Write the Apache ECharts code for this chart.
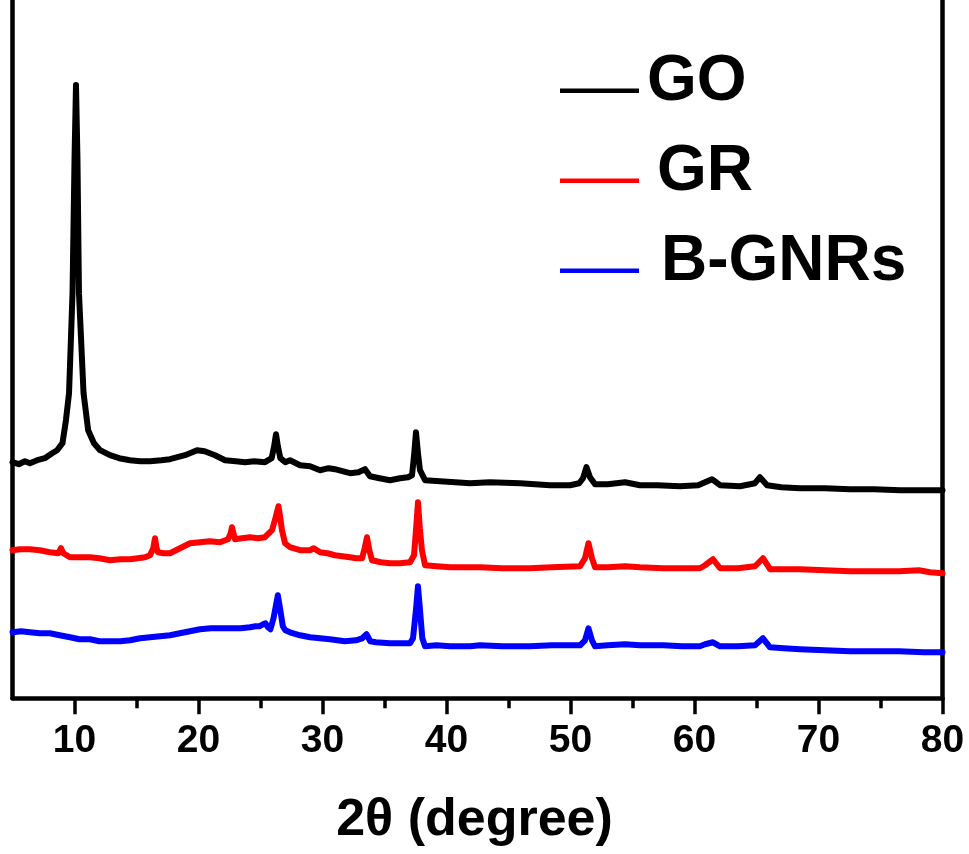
<!DOCTYPE html>
<html>
<head>
<meta charset="utf-8">
<script src="https://cdn.jsdelivr.net/npm/echarts@6/dist/echarts.min.js"></script>
<style>
html,body{margin:0;padding:0;background:#fff;}
#chart{width:969px;height:854px;}
</style>
</head>
<body>
<div id="chart"></div>
<script>
// ---- data (2θ in degrees, intensity in a.u., curves already offset for stacking) ----
const seriesNames = ['GO', 'GR', 'B-GNRs'];
const majorTicks = [10, 20, 30, 40, 50, 60, 70, 80];
const minorTicks = [15, 25, 35, 45, 55, 65, 75];

const goData = [
  [5.0,236],[5.5,234],[6.0,237],[6.4,235],[7.0,238],[7.6,240],[8.2,245],[8.6,248],
  [9.03,255],[9.31,278],[9.56,305],[9.84,405],[10.0,538],[10.12,613],[10.24,538],
  [10.36,405],[10.73,305],[11.1,268],[11.57,255],[12.06,248],[12.86,243],[13.6,240],
  [14.48,238],[15.3,237],[16.09,237],[17.0,238],[17.7,239],[18.3,241],[18.91,243],
  [19.5,246],[19.88,248],[20.5,247],[21.33,243],[22.14,238],[23.0,237],[23.75,236],
  [24.5,237],[25.36,236],[25.9,240],[26.1,252],[26.25,264],[26.4,252],[26.6,240],
  [27.0,236],[27.38,238],[28.19,233],[29.0,232],[29.8,228],[30.5,230],[31.0,229],
  [31.6,227],[32.22,225],[32.9,226],[33.43,229],[33.83,222],[34.6,220],[35.44,218],
  [36.25,220],[36.9,221],[37.22,223],[37.4,245],[37.54,266],[37.7,245],[37.86,228],
  [38.27,218],[39.48,217],[40.7,216],[41.9,215],[43.5,216],[45.93,215],[48.35,213],
  [49.96,213],[50.7,215],[51.01,220],[51.29,231],[51.57,221],[51.98,214],[53.0,214],
  [54.4,216],[55.6,213],[57.0,213],[58.83,212],[60.3,213],[60.85,216],[61.41,219],
  [62.06,213],[63.67,212],[64.88,215],[65.28,221],[65.85,213],[67.0,211],[68.51,210],
  [70.5,210],[72.54,209],[74.5,209],[76.57,208],[78.5,208],[80.0,208]
];

const grData = [
  [5.0,148],[5.6,149],[6.41,149],[7.2,148],[8.02,146],[8.7,145],[8.91,150],[9.1,145],
  [9.64,141],[10.4,141],[11.25,141],[12.0,140],[12.86,138],[13.7,139],[14.48,139],
  [15.1,140],[15.69,141],[16.09,143],[16.35,150],[16.49,160],[16.62,150],[16.73,146],
  [17.2,145],[17.7,145],[18.51,150],[19.31,155],[20.12,156],[20.9,157],[21.73,156],
  [22.38,159],[22.6,165],[22.7,171],[22.82,165],[22.94,159],[23.5,160],[24.15,161],
  [24.8,160],[25.36,161],[25.93,168],[26.2,180],[26.45,192],[26.6,180],[26.73,168],
  [26.98,155],[27.38,151],[28.19,148],[28.99,148],[29.3,150],[29.8,146],[30.4,145],
  [31.01,143],[31.6,142],[32.22,141],[32.7,140],[33.19,140],[33.4,150],[33.59,161],
  [33.78,148],[33.99,138],[34.7,136],[35.44,135],[36.25,135],[37.06,136],[37.38,143],
  [37.55,170],[37.7,196],[37.85,170],[38.02,148],[38.27,133],[39.2,132],[40.28,131],
  [41.9,131],[42.7,131],[44.5,130],[46.73,130],[48.5,131],[50.77,132],[51.17,140],
  [51.45,155],[51.73,140],[51.98,131],[53.0,131],[54.4,132],[55.6,131],[57.5,130],
  [59.0,130],[60.44,130],[60.85,133],[61.49,139],[62.06,130],[63.5,130],[64.88,132],
  [65.52,140],[66.09,129],[67.2,129],[68.51,129],[70.5,128],[72.54,127],[74.5,127],
  [76.5,127],[78.1,128],[79.0,126],[80.0,125]
];

const bgnrData = [
  [5.0,66],[5.7,67],[6.41,66],[7.2,65],[8.02,65],[8.8,63],[9.64,61],[10.4,59],
  [11.25,59],[12.0,57],[12.86,57],[13.7,57],[14.48,58],[15.3,60],[16.09,61],[16.9,62],
  [17.7,63],[18.5,65],[19.31,67],[20.12,69],[21.0,70],[21.73,70],[22.5,70],[23.4,70],
  [24.15,71],[24.6,72],[24.9,72],[25.2,74],[25.4,75],[25.6,71],[25.8,69],[26.05,80],
  [26.4,103],[26.6,88],[26.8,72],[27.0,68],[27.38,66],[28.19,63],[29.0,61],[29.8,60],
  [30.6,59],[31.8,57],[32.7,58],[33.2,60],[33.55,64],[33.85,57],[34.3,56],[35.44,55],
  [36.25,55],[37.06,55],[37.3,60],[37.55,90],[37.7,112],[37.85,90],[38.05,60],
  [38.27,52],[39.2,53],[40.28,52],[41.9,52],[42.7,53],[44.5,52],[46.73,52],[48.5,53],
  [50.77,53],[51.17,58],[51.45,70],[51.73,58],[51.98,52],[53.0,53],[54.4,54],
  [55.6,53],[57.5,53],[59.0,52],[60.44,52],[60.85,54],[61.49,56],[62.06,52],[63.5,52],
  [64.88,53],[65.52,60],[66.09,51],[67.2,50],[68.51,49],[70.5,48],[72.54,47],[74.5,47],
  [76.5,47],[78.5,46],[80.0,46]
];

const seriesColors = ['#000000', '#ff0000', '#0000ff'];
const seriesData = [goData, grData, bgnrData];

const FONT = '"Liberation Sans", Arial, sans-serif';
const chart = echarts.init(document.getElementById('chart'), null, {renderer: 'canvas'});

// legend icon: a short bar drawn in the lower part of its box
const legendIcon = 'path://M0,0 M0,17.5 L79,17.5 L79,22 L0,22 Z';

const option = {
  animation: false,
  backgroundColor: '#ffffff',
  grid: {left: 12.5, right: 26.5, top: 0, bottom: 155.7, containLabel: false},
  legend: {
    orient: 'vertical',
    left: 560,
    top: 49,
    padding: 0,
    itemGap: 24,
    icon: legendIcon,
    itemWidth: 79,
    itemHeight: 22,
    textStyle: {fontFamily: FONT, fontWeight: 'bold', fontSize: 64, color: '#000', lineHeight: 66},
    data: [
      {name: seriesNames[0], textStyle: {padding: [0, 0, 0, 3]}},
      {name: seriesNames[1], textStyle: {padding: [0, 0, 0, 13]}},
      {name: seriesNames[2], textStyle: {padding: [0, 0, 0, 17]}}
    ]
  },
  xAxis: [
    {
      type: 'value', min: 5, max: 80, splitNumber: 8,
      name: '2θ (degree)', nameLocation: 'middle', nameGap: 96,
      nameTextStyle: {fontFamily: FONT, fontWeight: 'bold', fontSize: 52, color: '#000', padding: [0, 6, 0, 0]},
      axisLine: {show: true, onZero: false, lineStyle: {color: '#000', width: 4.5}},
      axisTick: {show: true, length: 16, lineStyle: {color: '#000', width: 3.5}},
      axisLabel: {show: true, showMinLabel: false, fontFamily: FONT, fontWeight: 'bold', fontSize: 39, color: '#000', margin: 23,
        formatter: v => (majorTicks.indexOf(v) >= 0 ? String(v) : '')},
      splitLine: {show: false}
    },
    {
      type: 'value', min: 5, max: 80, position: 'bottom',
      axisLine: {show: false},
      axisTick: {show: true, customValues: minorTicks, length: 10, lineStyle: {color: '#000', width: 3.5}},
      axisLabel: {show: false},
      splitLine: {show: false}
    }
  ],
  yAxis: [
    {
      type: 'value', min: 0, max: 698, position: 'left',
      axisLine: {show: true, onZero: false, lineStyle: {color: '#000', width: 4.5}},
      axisTick: {show: false}, axisLabel: {show: false}, splitLine: {show: false}
    },
    {
      type: 'value', min: 0, max: 698, position: 'right',
      axisLine: {show: true, onZero: false, lineStyle: {color: '#000', width: 4.5}},
      axisTick: {show: false}, axisLabel: {show: false}, splitLine: {show: false}
    }
  ],
  series: seriesNames.map((name, i) => ({
    name: name,
    type: 'line',
    xAxisIndex: 0,
    yAxisIndex: 0,
    data: seriesData[i],
    symbol: 'none',
    showSymbol: false,
    smooth: false,
    color: seriesColors[i],
    lineStyle: {color: seriesColors[i], width: 6, join: 'round', cap: 'round'},
    z: 3 - i
  }))
};
chart.setOption(option);
</script>
</body>
</html>
